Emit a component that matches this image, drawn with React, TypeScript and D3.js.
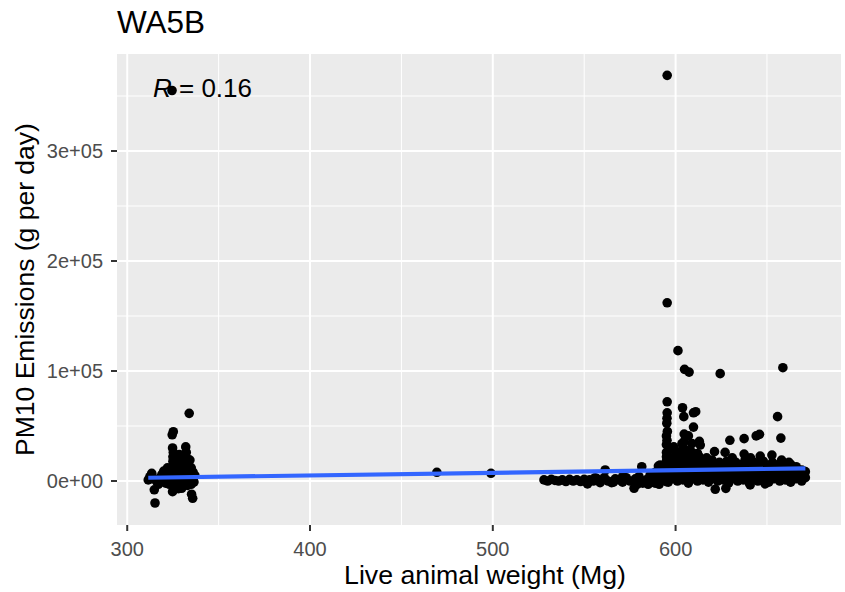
import React from "react";
import * as d3 from "d3";

// ---- data (x: live animal weight in Mg, y: PM10 emissions in thousands of g/day) ----
const leftCluster: [number, number][] = [
  [324.5, 355], [333.9, 61.5], [325.2, 44.8], [324.6, 42], [315.2, -20], [335.8, -15.7], [335.2, -12],
  [314.8, -8], [324.8, -9.7], [329.8, -6.6], [312.4, 4], [311.5, 1], [313.4, 7], [314, 2], [316, 0],
  [318, 3], [320, 1], [322, 4], [324, 2], [326, 6], [328, 3], [330, 5], [332, 2], [334, 4], [336, 1],
  [337, 5], [319, 6], [321, -2], [323, -3], [325, -4], [327, -1], [329, -3], [331, -2], [333, -4],
  [335, -3], [336.5, -1], [317, -3], [324, 10], [325, 14], [325, 18], [325, 22], [325.2, 26], [324.8, 30],
  [326, 12], [326.5, 20], [327, 16], [328, 10], [328.5, 24], [329, 13], [330, 18], [330.5, 9], [331, 22],
  [332, 31], [332.3, 26], [332.5, 15], [333, 20], [333.5, 10], [334.3, 19], [335, 12], [336, 8],
  [327.5, 7], [329.5, 8], [323, 8], [322, 12], [320, 9], [335, 6], [333, 7], [326, -6], [330, -5], [328, -7],
];

const midPoints: [number, number][] = [
  [469.4, 7.9], [499, 7],
];

const bandPoints: [number, number][] = [
  [528, 1], [530, 0], [532, 1.5], [534, 0.5], [536, 0], [538, 1], [540, -0.5], [542, 1.5], [544, 0],
  [546, 1], [548, -0.5], [550, 1.5], [551.8, -2.7], [553, 1], [555, 0], [557, 2], [558.7, -1.5],
  [561, 3], [561.5, 10], [563, 0], [565, -1.5], [567, 2], [569, 1], [571, -1], [573, 3], [575, 0],
  [577.3, -6.6], [578, 2], [580, 4], [581.5, 13], [582, -2], [584, 1], [586, 5], [588, -1], [588.8, -2],
  [590, 3], [590.6, 13.6], [591.5, 14.5], [591, -3], [592, 6], [589, 8], [585, -3], [579, -3], [571, 4],
  [566, -1], [556, 3],
];

const rightCluster: [number, number][] = [
  // lowest row
  [593, 1], [596, -1], [599, 2], [601, 0], [604, 1], [607, -2], [610, 2], [612, 0], [615, 1], [618, -1],
  [620, 2], [623, 0], [626, 1], [629, -2], [631, 2], [634, 0], [637, 1], [640, -1], [642, 2], [645, 0],
  [648, 1], [651, -1], [654, 2], [657, 0], [660, 1], [663, -1], [666, 2], [669, 0], [671, 3],
  // row near 5k
  [594, 5], [597, 6], [600, 4], [603, 7], [606, 5], [609, 6], [611, 4], [614, 7], [617, 5], [619, 6],
  [622, 4], [625, 7], [628, 5], [630, 6], [633, 4], [636, 7], [639, 5], [641, 6], [644, 4], [647, 7],
  [650, 5], [652, 6], [655, 4], [658, 7], [661, 5], [664, 6], [667, 4], [670, 6],
  // row near 10k
  [593, 10], [596, 9], [598, 11], [602, 10], [605, 9], [608, 11], [611, 10], [613, 9], [616, 11], [619, 10],
  [622, 9], [624, 11], [627, 10], [630, 9], [633, 11], [635, 10], [638, 9], [641, 11], [644, 10], [646, 9],
  [649, 11], [652, 10], [655, 9], [657, 11], [660, 10], [663, 9], [666, 11], [669, 10],
  // row near 14k
  [595, 14], [598, 13], [600, 15], [603, 14], [606, 13], [609, 15], [612, 14], [615, 13], [618, 15],
  [621, 14], [624, 13], [627, 15], [630, 14], [633, 13], [636, 15], [639, 14], [642, 13], [645, 15],
  [648, 14], [651, 13], [654, 15], [657, 14], [660, 13], [663, 15], [666, 13],
  // row near 18k
  [595, 18], [598, 17], [601, 19], [604, 18], [607, 17], [610, 19], [613, 18], [616, 17], [620, 19],
  [624, 17], [628, 18], [633, 17], [638, 19], [643, 17], [648, 18], [653, 17], [658, 19], [662, 17],
  // row near 22k
  [595, 22], [598, 21], [601, 23], [604, 22], [607, 21], [610, 23], [613, 22], [617, 21], [621.3, 26.7],
  [627.1, 26], [637.5, 24.5], [646.3, 22.7], [652.7, 23.6], [631, 21], [641, 21],
  // row near 27k
  [595, 26], [597, 29], [600, 27], [603, 25], [606, 28], [609, 26], [612, 25], [599, 31], [604, 30],
  // column at 595
  [595, 33], [595.3, 37], [595, 41], [595.5, 45], [595.2, 52.5], [595.3, 57], [595.4, 62], [595.4, 72],
  // scattered higher points
  [595.4, 368.8], [595.4, 162], [601.3, 118.5], [604.9, 101.5], [607.4, 99], [624.4, 97.6], [658.7, 103],
  [603.8, 66.6], [604.5, 58.5], [609.8, 62], [611, 63], [609.8, 49], [604.7, 42.7], [607, 41], [604.7, 35.7],
  [613, 36], [613.5, 32.7], [603.5, 34], [609, 34], [655.8, 58.5], [657.6, 39], [645.9, 42.4], [644.1, 41],
  [637.5, 38.5], [629.7, 37],
  // low strays
  [621.7, -7.5], [627.5, -6.7], [640.8, -3.6], [649, -2.7], [662.7, -0.6], [671, 8.5], [594.9, -0.6],
];

const xTicks = [300, 400, 500, 600];
const xMinor = [350, 450, 550, 650];
const yTicks = [0, 100, 200, 300];
const yMinor = [50, 150, 250, 350];
const yTickLabels = ["0e+00", "1e+05", "2e+05", "3e+05"];

// linear fit (thousands of g/day)
const fitIntercept = -4.39;
const fitSlope = 0.02364;
const corrLabel = "0.16";

const titleText = "WA5B";
const xTitle = "Live animal weight (Mg)";
const yTitle = "PM10 Emissions (g per day)";

export default function App() {
  const W = 845;
  const H = 592;
  const panel = { left: 117, top: 54, right: 841, bottom: 525 };
  const allPoints = [...leftCluster, ...midPoints, ...bandPoints, ...rightCluster];

  const x = d3.scaleLinear().domain([294.4, 690.5]).range([panel.left, panel.right]);
  const y = d3.scaleLinear().domain([-40, 388.2]).range([panel.bottom, panel.top]);

  const [xmin, xmax] = d3.extent(allPoints, (d) => d[0]) as [number, number];
  const fitData: [number, number][] = [xmin, xmax].map((v) => [v, fitIntercept + fitSlope * v]);
  const line = d3
    .line<[number, number]>()
    .x((d) => x(d[0]))
    .y((d) => y(d[1]));

  const font = "Liberation Sans, Arial, sans-serif";

  return (
    <svg
      width={W}
      height={H}
      style={{ position: "absolute", left: 0, top: 0, background: "#fff" }}
      fontFamily={font}
    >
      <rect x={0} y={0} width={W} height={H} fill="#fff" />
      <rect
        x={panel.left}
        y={panel.top}
        width={panel.right - panel.left}
        height={panel.bottom - panel.top}
        fill="#EBEBEB"
      />
      {xMinor.map((v) => (
        <line key={"xm" + v} x1={x(v)} x2={x(v)} y1={panel.top} y2={panel.bottom} stroke="#fff" strokeWidth={1} />
      ))}
      {yMinor.map((v) => (
        <line key={"ym" + v} x1={panel.left} x2={panel.right} y1={y(v)} y2={y(v)} stroke="#fff" strokeWidth={1} />
      ))}
      {xTicks.map((v) => (
        <line key={"xg" + v} x1={x(v)} x2={x(v)} y1={panel.top} y2={panel.bottom} stroke="#fff" strokeWidth={2} />
      ))}
      {yTicks.map((v) => (
        <line key={"yg" + v} x1={panel.left} x2={panel.right} y1={y(v)} y2={y(v)} stroke="#fff" strokeWidth={2} />
      ))}

      {allPoints.map((d, i) => (
        <circle key={i} cx={x(d[0])} cy={y(d[1])} r={4.8} fill="#000" />
      ))}

      <path d={line(fitData) || ""} fill="none" stroke="#3366FF" strokeWidth={4.2} />

      {/* axes ticks */}
      {xTicks.map((v) => (
        <g key={"xt" + v}>
          <line x1={x(v)} x2={x(v)} y1={panel.bottom} y2={panel.bottom + 6} stroke="#333" strokeWidth={2} />
          <text x={x(v)} y={panel.bottom + 31} textAnchor="middle" fontSize={20} fill="#4D4D4D">
            {v}
          </text>
        </g>
      ))}
      {yTicks.map((v, i) => (
        <g key={"yt" + v}>
          <line x1={panel.left - 6} x2={panel.left} y1={y(v)} y2={y(v)} stroke="#333" strokeWidth={2} />
          <text x={panel.left - 14} y={y(v) + 7} textAnchor="end" fontSize={20} fill="#4D4D4D">
            {yTickLabels[i]}
          </text>
        </g>
      ))}

      <text x={(panel.left + panel.right) / 2 + 6} y={584} textAnchor="middle" fontSize={26.7} fill="#000">
        {xTitle}
      </text>
      <text
        transform={`translate(34, ${(panel.top + panel.bottom) / 2}) rotate(-90)`}
        textAnchor="middle"
        fontSize={26.5}
        fill="#000"
      >
        {yTitle}
      </text>
      <text x={117} y={33} fontSize={31.5} fill="#000">
        {titleText}
      </text>
      <text x={153} y={97} fontSize={26} fill="#000">
        <tspan fontStyle="italic">R</tspan>
        <tspan>{" = " + corrLabel}</tspan>
      </text>
    </svg>
  );
}
